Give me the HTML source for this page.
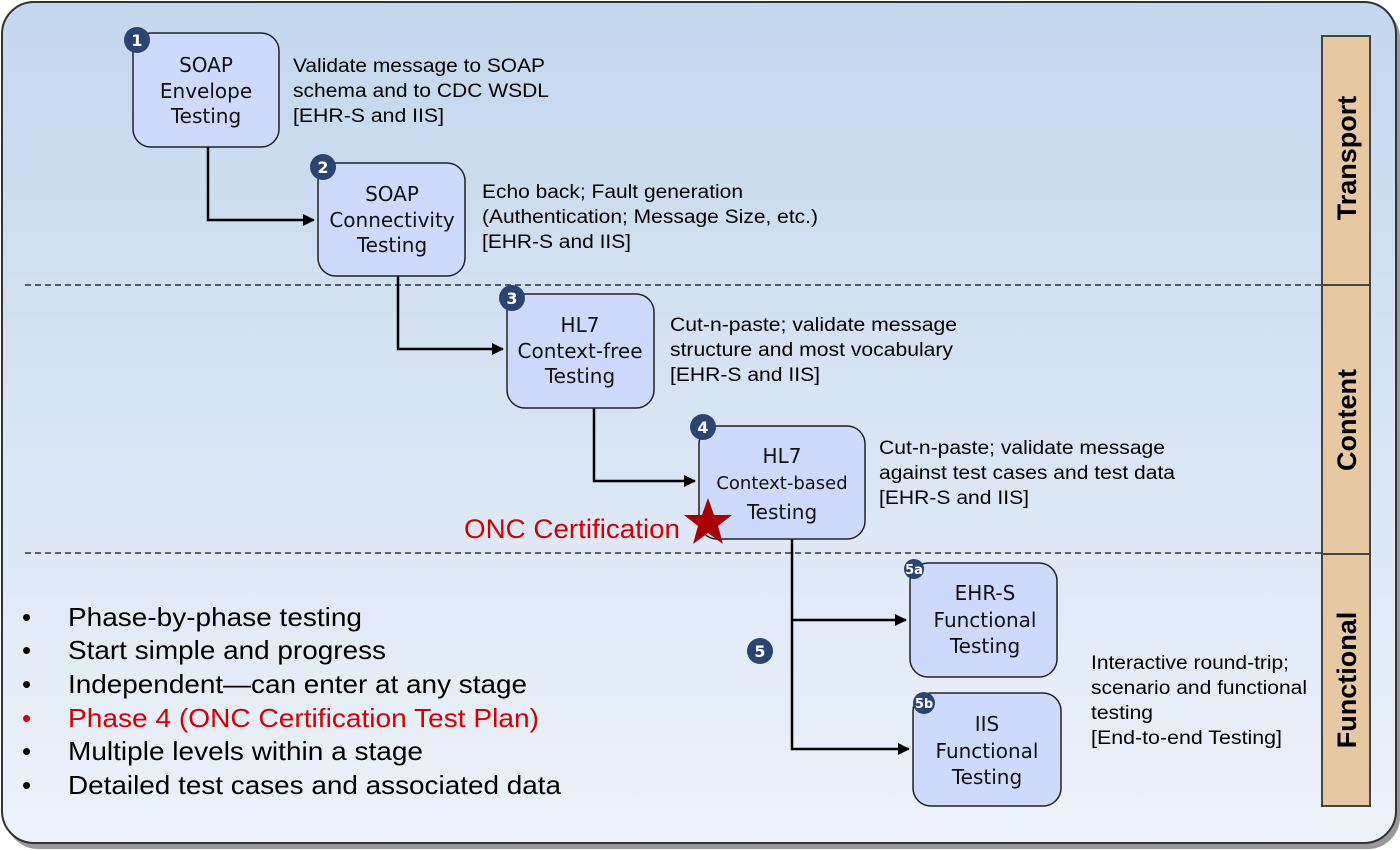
<!DOCTYPE html>
<html><head><meta charset="utf-8"><style>
html,body{margin:0;padding:0;background:#fff;width:1400px;height:850px;overflow:hidden}
.bx{font-family:"DejaVu Sans",sans-serif;font-size:20px;fill:#111}
.d{font-family:"Liberation Sans",sans-serif;font-size:19px;fill:#000}
.b{font-family:"Liberation Sans",sans-serif;font-size:26px;fill:#000}
.n{font-family:"DejaVu Sans",sans-serif;font-weight:bold;fill:#fff}
.s{font-family:"Liberation Sans",sans-serif;font-weight:bold;font-size:27px;fill:#000}
</style></head><body>
<svg width="1400" height="850" xmlns="http://www.w3.org/2000/svg">
<defs>
<linearGradient id="bg" x1="0" y1="0" x2="0" y2="1"><stop offset="0" stop-color="#c3d7ee"/><stop offset="1" stop-color="#edf2fa"/></linearGradient>
<marker id="a" markerWidth="12" markerHeight="12" refX="11" refY="6" orient="auto" markerUnits="userSpaceOnUse"><path d="M0,0 L12,6 L0,12 z" fill="#000"/></marker>
</defs>
<rect x="6" y="6" width="1394" height="843" rx="32" fill="#999"/>
<rect x="2" y="2" width="1394" height="841" rx="32" fill="url(#bg)" stroke="#333" stroke-width="2"/>
<line x1="25" y1="285" x2="1322" y2="285" stroke="#333" stroke-width="1.5" stroke-dasharray="6,4"/>
<line x1="25" y1="553" x2="1322" y2="553" stroke="#333" stroke-width="1.5" stroke-dasharray="6,4"/>
<g fill="#e6c8a2" stroke="#444" stroke-width="2">
<rect x="1322" y="36" width="48" height="249"/><rect x="1322" y="285" width="48" height="269"/><rect x="1322" y="554" width="48" height="252"/>
</g>
<text class="s" transform="translate(1356,158) rotate(-90)" text-anchor="middle">Transport</text>
<text class="s" transform="translate(1356,420) rotate(-90)" text-anchor="middle">Content</text>
<text class="s" transform="translate(1356,680) rotate(-90)" text-anchor="middle">Functional</text>
<g fill="none" stroke="#000" stroke-width="2.5">
<path d="M208,147 V220 H314" marker-end="url(#a)"/>
<path d="M398,276 V349 H503" marker-end="url(#a)"/>
<path d="M594,408 V481 H695" marker-end="url(#a)"/>
<path d="M792,539 V749 H909" marker-end="url(#a)"/>
<path d="M792,620 H906" marker-end="url(#a)"/>
</g>
<g fill="#cddafb" stroke="#222" stroke-width="1.5">
<rect x="133" y="33" width="146" height="114" rx="18"/>
<rect x="318" y="163" width="147" height="113" rx="18"/>
<rect x="507" y="294" width="147" height="114" rx="18"/>
<rect x="699" y="426" width="166" height="113" rx="18"/>
<rect x="910" y="563" width="147" height="114" rx="18"/>
<rect x="913" y="693" width="148" height="113" rx="18"/>
</g>
<g class="bx" text-anchor="middle">
<text x="206" y="72">SOAP</text><text x="206" y="98">Envelope</text><text x="206" y="123">Testing</text>
<text x="392" y="201">SOAP</text><text x="392" y="227">Connectivity</text><text x="392" y="252">Testing</text>
<text x="580" y="332">HL7</text><text x="580" y="358">Context-free</text><text x="580" y="383">Testing</text>
<text x="782" y="463">HL7</text><text x="782" y="489" style="font-size:18px">Context-based</text><text x="782" y="519">Testing</text>
<text x="985" y="600">EHR-S</text><text x="985" y="627">Functional</text><text x="985" y="653">Testing</text>
<text x="987" y="731">IIS</text><text x="987" y="758">Functional</text><text x="987" y="784">Testing</text>
</g>
<g fill="#2c4470">
<circle cx="137" cy="40" r="13"/><circle cx="323" cy="167" r="13"/><circle cx="512" cy="298" r="13"/><circle cx="703" cy="427" r="13"/><circle cx="760" cy="651" r="13"/><circle cx="914" cy="569" r="10"/><circle cx="924" cy="703" r="11"/>
</g>
<g class="n" text-anchor="middle" font-size="16">
<text x="137" y="46">1</text><text x="323" y="173">2</text><text x="512" y="304">3</text><text x="703" y="433">4</text><text x="760" y="657">5</text>
<text x="914" y="574" font-size="13">5a</text><text x="924" y="708" font-size="13">5b</text>
</g>
<g class="d">
<text x="293" y="72" textLength="252" lengthAdjust="spacingAndGlyphs">Validate message to SOAP</text><text x="293" y="97" textLength="256" lengthAdjust="spacingAndGlyphs">schema and to CDC WSDL</text><text x="293" y="122" textLength="151" lengthAdjust="spacingAndGlyphs">[EHR-S and IIS]</text>
<text x="482" y="198" textLength="261" lengthAdjust="spacingAndGlyphs">Echo back; Fault generation</text><text x="482" y="223" textLength="336" lengthAdjust="spacingAndGlyphs">(Authentication; Message Size, etc.)</text><text x="482" y="248" textLength="149" lengthAdjust="spacingAndGlyphs">[EHR-S and IIS]</text>
<text x="670" y="331" textLength="287" lengthAdjust="spacingAndGlyphs">Cut-n-paste; validate message</text><text x="670" y="356" textLength="283" lengthAdjust="spacingAndGlyphs">structure and most vocabulary</text><text x="670" y="381" textLength="150" lengthAdjust="spacingAndGlyphs">[EHR-S and IIS]</text>
<text x="879" y="454" textLength="286" lengthAdjust="spacingAndGlyphs">Cut-n-paste; validate message</text><text x="879" y="479" textLength="296" lengthAdjust="spacingAndGlyphs">against test cases and test data</text><text x="879" y="504" textLength="150" lengthAdjust="spacingAndGlyphs">[EHR-S and IIS]</text>
<text x="1091" y="669" textLength="198" lengthAdjust="spacingAndGlyphs">Interactive round-trip;</text><text x="1091" y="694" textLength="216" lengthAdjust="spacingAndGlyphs">scenario and functional</text><text x="1091" y="719" textLength="62" lengthAdjust="spacingAndGlyphs">testing</text><text x="1091" y="744" textLength="191" lengthAdjust="spacingAndGlyphs">[End-to-end Testing]</text>
</g>
<text x="464" y="538" font-family="Liberation Sans,sans-serif" font-size="27" fill="#d40000" textLength="216" lengthAdjust="spacingAndGlyphs">ONC Certification</text>
<polygon points="708,498 714,515 732,515 718,526 723,544 708,533 693,544 698,526 684,515 702,515" fill="#a80000"/>
<g class="b">
<text x="22" y="626">•</text><text x="68" y="626" textLength="294" lengthAdjust="spacingAndGlyphs">Phase-by-phase testing</text>
<text x="22" y="659">•</text><text x="68" y="659" textLength="318" lengthAdjust="spacingAndGlyphs">Start simple and progress</text>
<text x="22" y="693">•</text><text x="68" y="693" textLength="459" lengthAdjust="spacingAndGlyphs">Independent—can enter at any stage</text>
<text x="22" y="727" fill="#d40000">•</text><text x="68" y="727" fill="#d40000" textLength="471" lengthAdjust="spacingAndGlyphs">Phase 4 (ONC Certification Test Plan)</text>
<text x="22" y="760">•</text><text x="68" y="760" textLength="355" lengthAdjust="spacingAndGlyphs">Multiple levels within a stage</text>
<text x="22" y="794">•</text><text x="68" y="794" textLength="493" lengthAdjust="spacingAndGlyphs">Detailed test cases and associated data</text>
</g>
</svg>
</body></html>
